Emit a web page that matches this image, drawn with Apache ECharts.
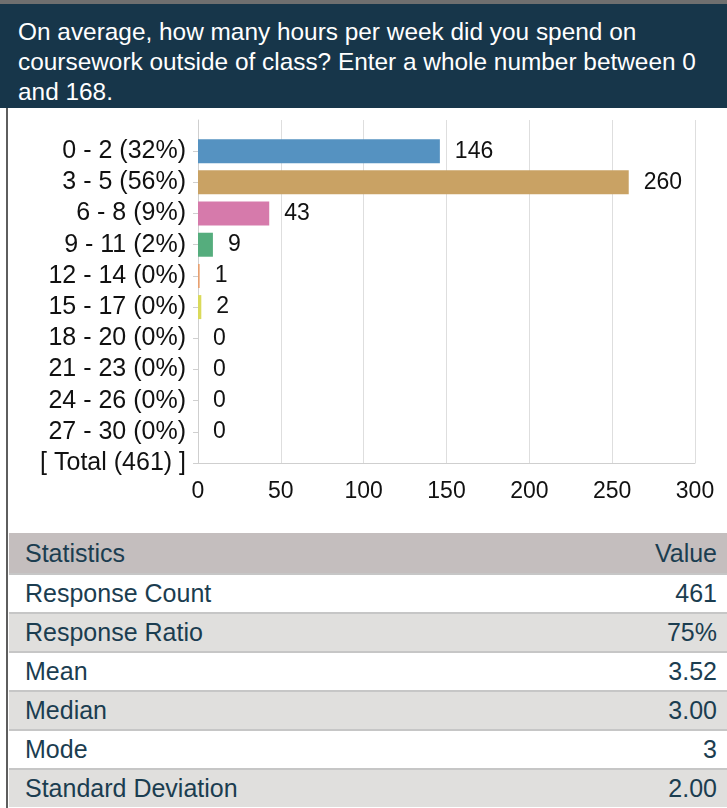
<!DOCTYPE html>
<html>
<head>
<meta charset="utf-8">
<script src="https://cdn.jsdelivr.net/npm/echarts@6/dist/echarts.min.js"></script>
<style>
body { margin: 0; background: #fff; font-family: Arial, "Liberation Sans", sans-serif; }
.page { position: relative; width: 727px; height: 808px; overflow: hidden; }
.top-border { position: absolute; left: 0; top: 0; width: 727px; height: 4px; background: #6f6f6f; }
.header {
    position: absolute; left: 0; top: 4px; width: 727px; height: 104px;
    background: #17364a; color: #fff; font-size: 24.4px; line-height: 30px;
    box-sizing: border-box; padding: 13px 0 0 18px; white-space: nowrap;
}
.left-border { position: absolute; left: 6px; top: 108px; width: 2px; height: 700px; background: #5e5e5e; }
.chart-container { position: absolute; left: 0; top: 108px; width: 727px; height: 422px; }
.stats { position: absolute; left: 9px; top: 533px; width: 718px; }
.stats .row {
    height: 37px; line-height: 37px; font-size: 25px; color: #1b3d50;
    padding: 0 10px 0 16px; display: flex; justify-content: space-between;
    border-top: 2px solid #c6c6c6;
}
.stats .row.head { background: #c4bebe; border-top: none; height: 40px; line-height: 40px; }
.stats .row.odd { background: #fff; }
.stats .row.even { background: #e0dfdd; }
</style>
</head>
<body>
<div class="page">
    <div class="top-border"></div>
    <div class="header">On average, how many hours per week did you spend on<br>coursework outside of class? Enter a whole number between 0<br>and 168.</div>
    <div class="left-border"></div>
    <div class="chart-container" id="chart"></div>
    <div class="stats" id="stats"></div>
</div>
<script>
// 数据
var categories = ['0 - 2 (32%)', '3 - 5 (56%)', '6 - 8 (9%)', '9 - 11 (2%)', '12 - 14 (0%)',
    '15 - 17 (0%)', '18 - 20 (0%)', '21 - 23 (0%)', '24 - 26 (0%)', '27 - 30 (0%)'];
var counts = [146, 260, 43, 9, 1, 2, 0, 0, 0, 0];
var barColors = ['#5592c1', '#c9a264', '#d67aab', '#55ad7d', '#e8a070', '#dada5a',
    '#8fb3d9', '#b39ddb', '#80cbc4', '#f48fb1'];
var totalLabel = '[ Total (461) ]';
var xTicks = [0, 300, 50];  // min, max, interval

var statNames = ['Response Count', 'Response Ratio', 'Mean', 'Median', 'Mode', 'Standard Deviation'];
var statValues = ['461', '75%', '3.52', '3.00', '3', '2.00'];

// 统计表
var html = '<div class="row head"><span>Statistics</span><span>Value</span></div>';
statNames.forEach(function (name, i) {
    html += '<div class="row ' + (i % 2 === 0 ? 'odd' : 'even') + '"><span>' + name +
        '</span><span>' + statValues[i] + '</span></div>';
});
document.getElementById('stats').innerHTML = html;

// 图表: 顶部留一个空类目, 底部是 Total 行
var yData = [''].concat(categories).concat([totalLabel]);
var seriesData = ['-'].concat(counts.map(function (v, i) {
    return { value: v, itemStyle: { color: barColors[i] } };
})).concat(['-']);

var chart = echarts.init(document.getElementById('chart'));
var font = 'Arial, "Liberation Sans", sans-serif';
var option = {
    animation: false,
    grid: { left: 198, right: 32, top: 12, bottom: 67 },
    xAxis: {
        type: 'value',
        min: xTicks[0],
        max: xTicks[1],
        interval: xTicks[2],
        axisLine: { show: true, lineStyle: { color: '#cfcfcf' } },
        axisTick: { show: false },
        splitLine: { show: true, lineStyle: { color: '#dedede' } },
        axisLabel: { color: '#111', fontSize: 23, fontFamily: font, margin: 17 }
    },
    yAxis: {
        type: 'category',
        inverse: true,
        boundaryGap: false,
        data: yData,
        axisLine: { show: true, lineStyle: { color: '#cfcfcf' } },
        axisTick: {
            show: true, length: 5,
            interval: function (index) { return index > 0; },
            lineStyle: { color: '#cfcfcf' }
        },
        axisLabel: { color: '#111', fontSize: 25, fontFamily: font, margin: 12, interval: 0 },
        splitLine: { show: false }
    },
    series: [
        {
            type: 'bar',
            data: seriesData,
            barWidth: 24,
            label: {
                show: true,
                position: 'right',
                distance: 15,
                color: '#111',
                fontSize: 23,
                fontFamily: font
            }
        }
    ]
};
chart.setOption(option);
</script>
</body>
</html>
